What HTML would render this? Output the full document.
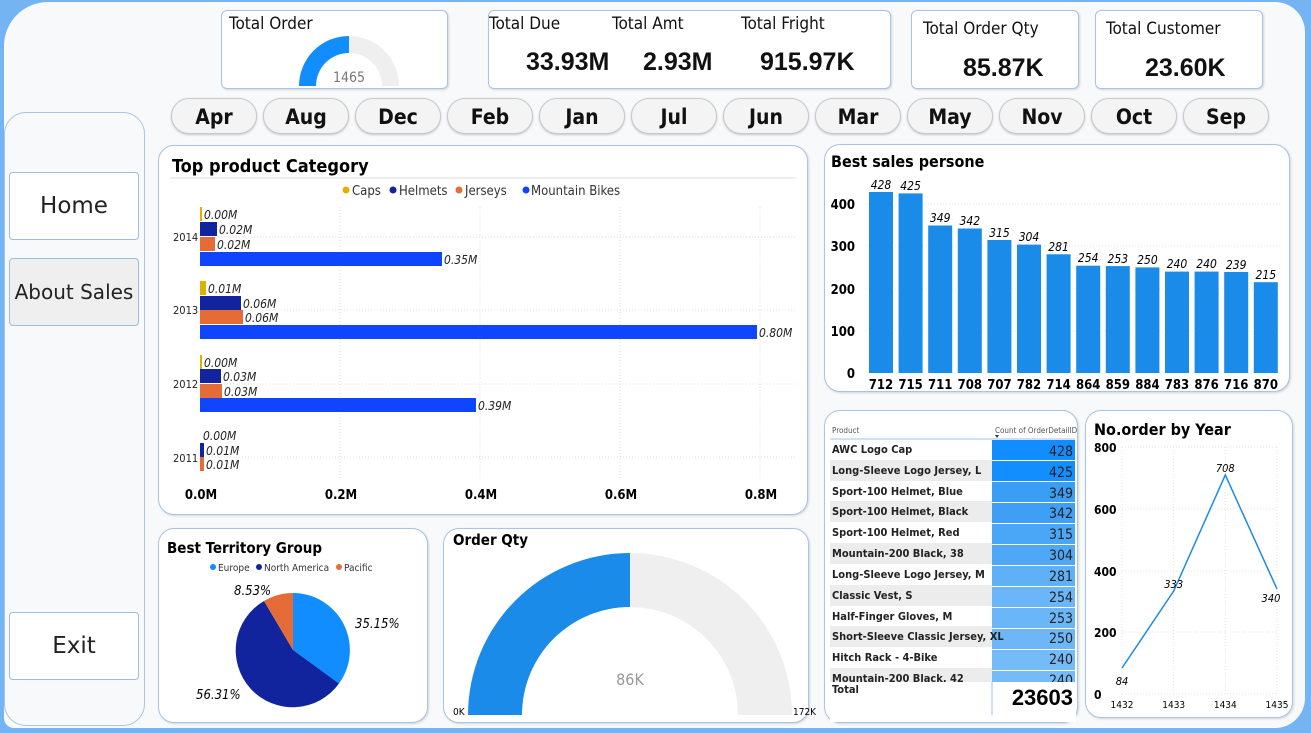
<!DOCTYPE html>
<html><head><meta charset="utf-8"><style>
*{margin:0;padding:0;box-sizing:border-box}
body{width:1311px;height:733px;background:#74b4f2;position:relative;overflow:hidden;font-family:"DejaVu Sans Condensed","Liberation Sans",sans-serif;color:#111}
.abs{position:absolute}
.card{position:absolute;background:#fff;border:1px solid #a9c4e4;border-radius:6px;box-shadow:1px 1px 2px rgba(0,0,0,.15)}
.rc{border-radius:16px}
.pill{position:absolute;top:98px;width:86px;height:36px;border:1px solid #c8c8c8;border-radius:18px;background:#f4f4f4;font-weight:bold;font-size:21px;text-align:center;line-height:36px;font-family:"DejaVu Sans Condensed",sans-serif;box-shadow:0 1px 2px rgba(0,0,0,.2)}
.btn{position:absolute;left:9px;width:130px;height:68px;border:1px solid #9cbde0;border-radius:4px;background:#fff;text-align:center;line-height:66px;font-family:"DejaVu Sans",sans-serif;color:#222;font-size:23px}
.big{font-weight:bold;font-size:25px;font-family:"Liberation Sans",sans-serif}
</style></head><body>
<div class="abs" style="left:4px;top:2px;width:1301px;height:726px;background:#f8f9fb;border-radius:44px 30px 30px 10px"></div>
<div class="abs" style="left:4px;top:112px;width:141px;height:614px;border:1px solid #a9c4e4;border-radius:22px;background:#f8f9fb"></div>
<div class="btn" style="top:172px">Home</div>
<div class="btn" style="top:258px;background:#efefef;font-size:20px">About Sales</div>
<div class="btn" style="top:612px">Exit</div>

<div class="card" style="left:221px;top:10px;width:227px;height:79px">
 <div class="abs" style="left:7px;top:3px;font-size:17px">Total Order</div>
 <svg class="abs" style="left:0;top:0" width="227" height="79"><path d="M77 75 A50 50 0 0 1 127 25 L127 42 A33 33 0 0 0 94 75Z" fill="#118dff"/><path d="M127 25 A50 50 0 0 1 177 75 L160 75 A33 33 0 0 0 127 42Z" fill="#efefef"/><text x="127" y="71" font-size="14" fill="#777" text-anchor="middle" font-family="DejaVu Sans Condensed">1465</text></svg>
</div>
<div class="card" style="left:488px;top:10px;width:403px;height:79px">
 <div class="abs" style="left:0;top:3px;font-size:17px">Total Due</div>
 <div class="abs" style="left:123px;top:3px;font-size:17px">Total Amt</div>
 <div class="abs" style="left:252px;top:3px;font-size:17px">Total Fright</div>
 <div class="abs big" style="left:37px;top:37px">33.93M</div>
 <div class="abs big" style="left:154px;top:37px">2.93M</div>
 <div class="abs big" style="left:271px;top:37px">915.97K</div>
</div>
<div class="card" style="left:911px;top:10px;width:168px;height:79px">
 <div class="abs" style="left:11px;top:8px;font-size:17px">Total Order Qty</div>
 <div class="abs big" style="left:51px;top:43px">85.87K</div>
</div>
<div class="card" style="left:1095px;top:10px;width:168px;height:79px">
 <div class="abs" style="left:10px;top:8px;font-size:17px">Total Customer</div>
 <div class="abs big" style="left:49px;top:43px">23.60K</div>
</div>

<div class="pill" style="left:171px">Apr</div>
<div class="pill" style="left:263px">Aug</div>
<div class="pill" style="left:355px">Dec</div>
<div class="pill" style="left:447px">Feb</div>
<div class="pill" style="left:539px">Jan</div>
<div class="pill" style="left:631px">Jul</div>
<div class="pill" style="left:723px">Jun</div>
<div class="pill" style="left:815px">Mar</div>
<div class="pill" style="left:907px">May</div>
<div class="pill" style="left:999px">Nov</div>
<div class="pill" style="left:1091px">Oct</div>
<div class="pill" style="left:1183px">Sep</div>

<div class="card rc" style="left:158px;top:145px;width:650px;height:370px"></div>
<svg class="abs" style="left:0;top:0" width="820" height="520" font-family="DejaVu Sans Condensed">
<text x="172" y="172" font-size="18" font-weight="bold">Top product Category</text>
<line x1="170" y1="178" x2="796" y2="178" stroke="#ddd"/>
<g font-size="13" fill="#333">
<circle cx="346" cy="190" r="3.5" fill="#e0b000"/><text x="352" y="195">Caps</text>
<circle cx="393" cy="190" r="3.5" fill="#12239e"/><text x="399" y="195">Helmets</text>
<circle cx="459" cy="190" r="3.5" fill="#e66c37"/><text x="465" y="195">Jerseys</text>
<circle cx="526" cy="190" r="3.5" fill="#0f45ff"/><text x="531" y="195">Mountain Bikes</text>
</g>
<g stroke="#ddd" stroke-dasharray="1,2"><line x1="340" y1="207" x2="340" y2="478"/><line x1="480" y1="207" x2="480" y2="478"/><line x1="620" y1="207" x2="620" y2="478"/><line x1="760" y1="207" x2="760" y2="478"/>
<line x1="200" y1="237" x2="795" y2="237"/><line x1="200" y1="310" x2="795" y2="310"/><line x1="200" y1="384" x2="795" y2="384"/><line x1="200" y1="457" x2="795" y2="457"/></g>
<g font-size="11" fill="#222"><text x="173" y="241">2014</text><text x="173" y="314">2013</text><text x="173" y="388">2012</text><text x="173" y="462">2011</text></g>
<rect x="200" y="207" width="2" height="14" fill="#e0b000"/>
<rect x="200" y="222" width="17" height="14" fill="#12239e"/>
<rect x="200" y="237" width="15" height="14" fill="#e66c37"/>
<rect x="200" y="252" width="242" height="14" fill="#0f45ff"/>
<rect x="200" y="281" width="6" height="14" fill="#e0b000"/>
<rect x="200" y="296" width="41" height="14" fill="#12239e"/>
<rect x="200" y="310" width="43" height="14" fill="#e66c37"/>
<rect x="200" y="325" width="557" height="14" fill="#0f45ff"/>
<rect x="200" y="355" width="2" height="14" fill="#e0b000"/>
<rect x="200" y="369" width="21" height="14" fill="#12239e"/>
<rect x="200" y="384" width="22" height="14" fill="#e66c37"/>
<rect x="200" y="398" width="276" height="14" fill="#0f45ff"/>
<rect x="200" y="443" width="4" height="14" fill="#12239e"/>
<rect x="200" y="457" width="4" height="14" fill="#e66c37"/>
<g font-size="12" font-style="italic" fill="#222">
<text x="204" y="219">0.00M</text><text x="219" y="234">0.02M</text><text x="217" y="249">0.02M</text><text x="444" y="264">0.35M</text>
<text x="208" y="293">0.01M</text><text x="243" y="308">0.06M</text><text x="245" y="322">0.06M</text><text x="759" y="337">0.80M</text>
<text x="204" y="367">0.00M</text><text x="223" y="381">0.03M</text><text x="224" y="396">0.03M</text><text x="478" y="410">0.39M</text>
<text x="203" y="440">0.00M</text><text x="206" y="455">0.01M</text><text x="206" y="469">0.01M</text></g>
<g font-size="13" font-weight="bold" text-anchor="middle"><text x="201" y="499">0.0M</text><text x="341" y="499">0.2M</text><text x="481" y="499">0.4M</text><text x="621" y="499">0.6M</text><text x="761" y="499">0.8M</text></g>
</svg>

<div class="card rc" style="left:824px;top:144px;width:466px;height:248px"></div>
<svg class="abs" style="left:820px;top:140px" width="480" height="260" font-family="DejaVu Sans Condensed">
<text x="11" y="27" font-size="16" font-weight="bold">Best sales persone</text>
<g font-size="13" font-weight="bold" text-anchor="end"><text x="35" y="69">400</text><text x="35" y="111">300</text><text x="35" y="154">200</text><text x="35" y="196">100</text><text x="35" y="238">0</text></g>
<g stroke="#e5e5e5" stroke-dasharray="1,2"><line x1="45" y1="64" x2="462" y2="64"/><line x1="45" y1="106" x2="462" y2="106"/><line x1="45" y1="149" x2="462" y2="149"/><line x1="45" y1="191" x2="462" y2="191"/></g>
<g fill="#1a8be8">
<rect x="49" y="52" width="24" height="181"/><rect x="78.6" y="53.4" width="24" height="179.6"/><rect x="108.2" y="85.5" width="24" height="147.5"/><rect x="137.8" y="88.5" width="24" height="144.5"/><rect x="167.4" y="100" width="24" height="133"/><rect x="197" y="104.6" width="24" height="128.4"/><rect x="226.6" y="114.3" width="24" height="118.7"/><rect x="256.2" y="125.7" width="24" height="107.3"/><rect x="285.8" y="126.1" width="24" height="106.9"/><rect x="315.4" y="127.4" width="24" height="105.6"/><rect x="345" y="131.6" width="24" height="101.4"/><rect x="374.6" y="131.6" width="24" height="101.4"/><rect x="404.2" y="132" width="24" height="101"/><rect x="433.8" y="142.2" width="24" height="90.8"/></g>
<g font-size="12" font-style="italic" text-anchor="middle"><text x="61" y="49">428</text><text x="90.6" y="50">425</text><text x="120.2" y="82">349</text><text x="149.8" y="85">342</text><text x="179.4" y="97">315</text><text x="209" y="101">304</text><text x="238.6" y="111">281</text><text x="268.2" y="122">254</text><text x="297.8" y="123">253</text><text x="327.4" y="124">250</text><text x="357" y="128">240</text><text x="386.6" y="128">240</text><text x="416.2" y="129">239</text><text x="445.8" y="139">215</text></g>
<g font-size="13" font-weight="bold" text-anchor="middle"><text x="61" y="249">712</text><text x="90.6" y="249">715</text><text x="120.2" y="249">711</text><text x="149.8" y="249">708</text><text x="179.4" y="249">707</text><text x="209" y="249">782</text><text x="238.6" y="249">714</text><text x="268.2" y="249">864</text><text x="297.8" y="249">859</text><text x="327.4" y="249">884</text><text x="357" y="249">783</text><text x="386.6" y="249">876</text><text x="416.2" y="249">716</text><text x="445.8" y="249">870</text></g>
</svg>

<div class="card rc" style="left:824px;top:410px;width:254px;height:313px"></div>
<svg class="abs" style="left:820px;top:405px" width="265" height="325" font-family="DejaVu Sans Condensed">
<text x="12" y="28" font-size="8" fill="#555">Product</text><text x="175" y="28" font-size="8" fill="#555">Count of OrderDetailID</text>
<path d="M175 30 l4 0 l-2 3z" fill="#333"/>
<line x1="10" y1="34" x2="255" y2="34" stroke="#9cc3ee"/>
<g fill="#ececec"><rect x="10" y="55" width="162" height="21"/><rect x="10" y="96" width="162" height="21"/><rect x="10" y="138" width="162" height="21"/><rect x="10" y="180" width="162" height="21"/><rect x="10" y="221" width="162" height="21"/><rect x="10" y="263" width="162" height="14"/></g>
<rect x="172" y="35" width="83" height="20" fill="#118dff"/><rect x="172" y="56" width="83" height="20" fill="#138eff"/>
<rect x="172" y="77" width="83" height="20" fill="#3b9ef5"/><rect x="172" y="98" width="83" height="20" fill="#3f9ff5"/>
<rect x="172" y="119" width="83" height="20" fill="#4aa6f6"/><rect x="172" y="140" width="83" height="20" fill="#4fa8f6"/>
<rect x="172" y="161" width="83" height="20" fill="#5eb0f7"/><rect x="172" y="182" width="83" height="20" fill="#6ab6f8"/>
<rect x="172" y="203" width="83" height="20" fill="#6bb6f8"/><rect x="172" y="224" width="83" height="20" fill="#6db7f8"/>
<rect x="172" y="245" width="83" height="20" fill="#74bbf8"/><rect x="172" y="266" width="83" height="11" fill="#74bbf8"/>
<g font-size="11" font-weight="bold" fill="#222"><text x="12" y="48">AWC Logo Cap</text><text x="12" y="69">Long-Sleeve Logo Jersey, L</text><text x="12" y="90">Sport-100 Helmet, Blue</text><text x="12" y="110">Sport-100 Helmet, Black</text><text x="12" y="131">Sport-100 Helmet, Red</text><text x="12" y="152">Mountain-200 Black, 38</text><text x="12" y="173">Long-Sleeve Logo Jersey, M</text><text x="12" y="194">Classic Vest, S</text><text x="12" y="215">Half-Finger Gloves, M</text><text x="12" y="235">Short-Sleeve Classic Jersey, XL</text><text x="12" y="256">Hitch Rack - 4-Bike</text><text x="12" y="277">Mountain-200 Black, 42</text></g>
<g font-size="14" fill="#222" text-anchor="end"><text x="253" y="51">428</text><text x="253" y="72">425</text><text x="253" y="93">349</text><text x="253" y="113">342</text><text x="253" y="134">315</text><text x="253" y="155">304</text><text x="253" y="176">281</text><text x="253" y="197">254</text><text x="253" y="218">253</text><text x="253" y="238">250</text><text x="253" y="259">240</text><text x="253" y="280">240</text></g>
<rect x="10" y="277" width="246" height="40" fill="#fff"/>
<line x1="172" y1="277" x2="172" y2="310" stroke="#9cc3ee"/>
<text x="12" y="288" font-size="11" font-weight="bold" fill="#222">Total</text>
<text x="253" y="300" font-size="22" font-weight="bold" text-anchor="end" font-family="Liberation Sans">23603</text>
</svg>

<div class="card rc" style="left:1085px;top:410px;width:208px;height:308px"></div>
<svg class="abs" style="left:1085px;top:410px" width="226" height="323" font-family="DejaVu Sans Condensed">
<text x="9" y="25" font-size="16" font-weight="bold">No.order by Year</text>
<g font-size="12" font-weight="bold"><text x="9" y="42">800</text><text x="9" y="104">600</text><text x="9" y="166">400</text><text x="9" y="227">200</text><text x="9" y="289">0</text></g>
<g stroke="#e3e3e3" stroke-dasharray="1,2"><line x1="37" y1="37" x2="192" y2="37"/><line x1="37" y1="99" x2="192" y2="99"/><line x1="37" y1="161" x2="192" y2="161"/><line x1="37" y1="222" x2="192" y2="222"/><line x1="37" y1="284" x2="192" y2="284"/><line x1="37" y1="37" x2="37" y2="284"/><line x1="88.7" y1="37" x2="88.7" y2="284"/><line x1="140.3" y1="37" x2="140.3" y2="284"/><line x1="192" y1="37" x2="192" y2="284"/></g>
<polyline points="37,258 88.7,181 140.3,65 192,179" fill="none" stroke="#1a8be8" stroke-width="1.5"/>
<g font-size="11" font-style="italic" text-anchor="middle"><text x="37" y="275">84</text><text x="88.7" y="178">333</text><text x="140.3" y="62">708</text><text x="186" y="192">340</text></g>
<g font-size="10" text-anchor="middle"><text x="37" y="298">1432</text><text x="88.7" y="298">1433</text><text x="140.3" y="298">1434</text><text x="192" y="298">1435</text></g>
</svg>

<div class="card rc" style="left:158px;top:528px;width:270px;height:195px"></div>
<svg class="abs" style="left:158px;top:528px" width="272" height="198" font-family="DejaVu Sans Condensed">
<text x="9" y="25" font-size="15" font-weight="bold">Best Territory Group</text>
<g font-size="10" fill="#333"><circle cx="55" cy="39" r="3" fill="#118dff"/><text x="60" y="43">Europe</text><circle cx="101" cy="39" r="3" fill="#12239e"/><text x="106" y="43">North America</text><circle cx="181" cy="39" r="3" fill="#e66c37"/><text x="186" y="43">Pacific</text></g>
<path d="M135 122 L135 65 A57 57 0 0 1 181 155.5Z" fill="#118dff"/>
<path d="M135 122 L181 155.5 A57 57 0 1 1 106 73Z" fill="#12239e"/>
<path d="M135 122 L106 73 A57 57 0 0 1 135 65Z" fill="#e66c37"/>
<g font-size="13" font-style="italic"><text x="76" y="67">8.53%</text><text x="197" y="100">35.15%</text><text x="38" y="171">56.31%</text></g>
</svg>

<div class="card rc" style="left:443px;top:528px;width:366px;height:195px"></div>
<svg class="abs" style="left:443px;top:528px" width="400" height="200" font-family="DejaVu Sans Condensed">
<text x="10" y="17" font-size="15" font-weight="bold">Order Qty</text>
<path d="M25 187 A162 162 0 0 1 187 25 L187 79 A108 108 0 0 0 79 187Z" fill="#1a8be8"/>
<path d="M187 25 A162 162 0 0 1 349 187 L295 187 A108 108 0 0 0 187 79Z" fill="#efefef"/>
<text x="187" y="157" font-size="16" fill="#999" text-anchor="middle">86K</text>
<text x="10" y="187" font-size="10">0K</text><text x="350" y="187" font-size="10">172K</text>
</svg>
</body></html>
